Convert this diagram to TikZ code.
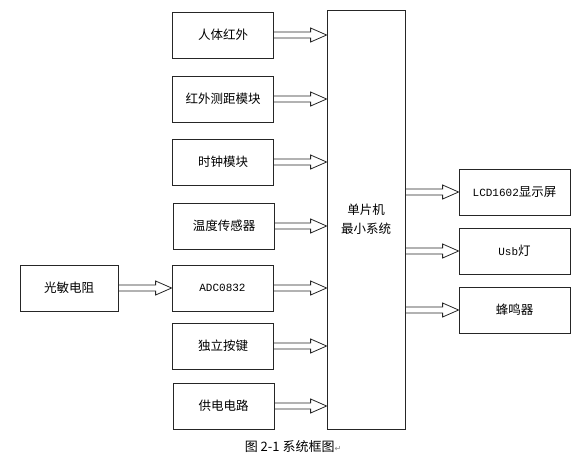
\documentclass[tikz,border=0pt]{standalone}
\usepackage{fontspec}
\setmainfont{Noto Sans CJK SC}
\newfontfamily\latinmono{Liberation Mono}
\newfontfamily\symbfont{DejaVu Sans}
\usetikzlibrary{calc}

\tikzset{
	block/.style={draw=black!85, line width=.8pt, minimum width=101pt, minimum height=46pt, inner sep=0pt, font=\fontsize{12.5}{14}\selectfont},
	hollow/.style={draw=black!85, line width=.8pt}
}
% hollow block arrow from a box edge to the facing edge of another box
\newcommand{\hollowarrow}[2]{%
	\coordinate (s) at (#1);
	\coordinate (t) at (#1 -| #2);
	\draw[hollow] ($(s)+(0,-3)$) -- ($(t)+(-16,-3)$) -- ($(t)+(-16,-7)$) -- (t)
		-- ($(t)+(-16,7)$) -- ($(t)+(-16,3)$) -- ($(s)+(0,3)$);
}

\begin{document}
\begin{tikzpicture}[x=1pt,y=-1pt]
		\useasboundingbox (0,0) rectangle (575,456);
		% inputs
		\node[block] (ir) at (223,35) {人体红外};
		\node[block] (irdist) at (223,99) {红外测距模块};
		\node[block] (clock) at (223,162) {时钟模块};
		\node[block] (temp) at (224,226) {温度传感器};
		\node[block] (adc) at (222.5,288) {\latinmono\fontsize{11}{14}\selectfont ADC0832};
		\node[block] (key) at (223,346) {独立按键};
		\node[block] (power) at (223.5,406) {供电电路};
		\node[block, minimum width=98pt] (ldr) at (69,288) {光敏电阻};
		% controller
		\node[block, minimum width=78pt, minimum height=419pt, align=center, font=\fontsize{12.5}{19}\selectfont] (mcu) at (366,219.5) {单片机\\最小系统};
		% outputs
		\node[block, minimum width=111pt] (lcd) at (514.5,192) {{\latinmono\fontsize{11}{14}\selectfont LCD1602}显示屏};
		\node[block, minimum width=111pt] (usb) at (514.5,251) {{\latinmono\fontsize{11}{14}\selectfont Usb}灯};
		\node[block, minimum width=111pt] (buzzer) at (514.5,310) {蜂鸣器};
		% arrows
		\hollowarrow{ir.east}{mcu.west}
		\hollowarrow{irdist.east}{mcu.west}
		\hollowarrow{clock.east}{mcu.west}
		\hollowarrow{temp.east}{mcu.west}
		\hollowarrow{adc.east}{mcu.west}
		\hollowarrow{key.east}{mcu.west}
		\hollowarrow{power.east}{mcu.west}
		\hollowarrow{ldr.east}{adc.west}
		\hollowarrow{mcu.east |- lcd.west}{lcd.west}
		\hollowarrow{mcu.east |- usb.west}{usb.west}
		\hollowarrow{mcu.east |- buzzer.west}{buzzer.west}
		% caption
		\node[font=\fontsize{13}{15}\selectfont] (caption) at (293,447) {图 2-1 系统框图{\symbfont\color{gray}\fontsize{8}{8}\selectfont ↵}};
	\end{tikzpicture}
\end{document}
